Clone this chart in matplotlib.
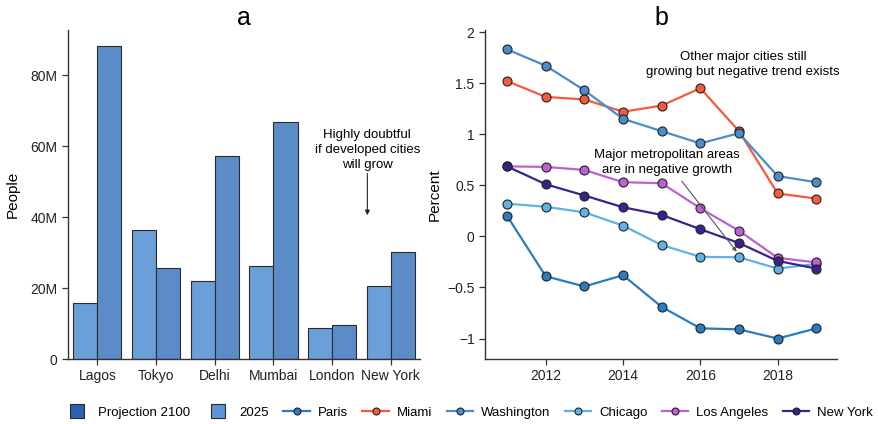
import matplotlib
matplotlib.use("Agg")
import matplotlib.pyplot as plt
from matplotlib.lines import Line2D
from matplotlib.ticker import FuncFormatter
import numpy as np

plt.rcParams['font.family'] = ['Liberation Sans', 'DejaVu Sans']

# panel a data (millions of people)
cities = ["Lagos", "Tokyo", "Delhi", "Mumbai", "London", "New York"]
pop_2025 = [15.9, 36.3, 22.0, 26.3, 8.6, 20.6]
pop_2100 = [88.2, 25.6, 57.3, 66.8, 9.6, 30.1]

# panel b data (percent growth)
years = [2011, 2012, 2013, 2014, 2015, 2016, 2017, 2018, 2019]
paris = [0.20, -0.39, -0.49, -0.38, -0.69, -0.90, -0.91, -1.00, -0.90]
miami = [1.52, 1.365, 1.34, 1.22, 1.28, 1.45, 1.03, 0.42, 0.37]
washington = [1.83, 1.67, 1.43, 1.15, 1.03, 0.91, 1.01, 0.59, 0.53]
chicago = [0.32, 0.29, 0.235, 0.105, -0.085, -0.20, -0.205, -0.315, -0.27]
los_angeles = [0.685, 0.68, 0.65, 0.53, 0.52, 0.275, 0.055, -0.21, -0.255]
new_york = [0.685, 0.51, 0.40, 0.285, 0.21, 0.07, -0.065, -0.24, -0.315]

series = [("Paris", paris, "#2a7bbf"),
          ("Miami", miami, "#f45b3c"),
          ("Washington", washington, "#4a8ccc"),
          ("Chicago", chicago, "#5db3e4"),
          ("Los Angeles", los_angeles, "#bf5fd6"),
          ("New York", new_york, "#3b2190")]

fig = plt.figure(figsize=(8.79, 4.24), dpi=100)
ax1 = fig.add_axes([0.0774, 0.1533, 0.4006, 0.776])
ax2 = fig.add_axes([0.5518, 0.1533, 0.4002, 0.776])

edge = "#2b2b2b"
for ax in (ax1, ax2):
    for s in ("top", "right"):
        ax.spines[s].set_visible(False)
    for s in ("left", "bottom"):
        ax.spines[s].set_color("#333333")
        ax.spines[s].set_linewidth(1.0)
    ax.tick_params(direction="out", length=4, width=0.9, colors="#333333",
                   labelsize=10, labelcolor="#222222")

# ---- panel a
x = np.arange(len(cities))
w = 0.41
ax1.bar(x - w / 2, np.array(pop_2025) * 1e6, width=w, color="#6a9fd8",
        edgecolor=edge, linewidth=0.8)
ax1.bar(x + w / 2, np.array(pop_2100) * 1e6, width=w, color="#5b8cc8",
        edgecolor=edge, linewidth=0.8)
ax1.set_xticks(x)
ax1.set_xticklabels(cities)
ax1.set_xlim(-0.5, 5.5)
ax1.set_ylim(0, 92.7e6)
ax1.set_yticks([0, 20e6, 40e6, 60e6, 80e6])
ax1.yaxis.set_major_formatter(FuncFormatter(lambda v, p: "0" if v == 0 else "%dM" % round(v / 1e6)))
ax1.set_ylabel("People", fontsize=11, labelpad=8)
ax1.set_title("a", fontsize=18, pad=2)
ax1.annotate("Highly doubtful\nif developed cities\nwill grow", xy=(4.6, 40.5e6),
             xytext=(4.6, 53e6), ha="center", va="bottom", fontsize=9.5,
             linespacing=1.3,
             arrowprops=dict(arrowstyle="-|>", color="#222222", lw=0.8,
                             mutation_scale=7, shrinkA=0, shrinkB=0))

# ---- panel b
for name, vals, col in series:
    ax2.plot(years, vals, color=col, lw=1.6, marker="o", markersize=6.5,
             markerfacecolor=col, markeredgecolor="#222222", markeredgewidth=0.8)
ax2.set_xlim(2010.43, 2019.53)
ax2.set_ylim(-1.2, 2.02)
ax2.set_xticks([2012, 2014, 2016, 2018])
ax2.set_yticks([-1, -0.5, 0, 0.5, 1, 1.5, 2])
ax2.yaxis.set_major_formatter(FuncFormatter(lambda v, p: ("%g" % v).replace("-", "\u2212")))
ax2.set_ylabel("Percent", fontsize=11, labelpad=4)
ax2.set_title("b", fontsize=18, pad=2)
ax2.text(2017.1, 1.68, "Other major cities still\ngrowing but negative trend exists",
         ha="center", va="center", fontsize=9.5, linespacing=1.3)
ax2.text(2015.13, 0.72, "Major metropolitan areas\nare in negative growth",
         ha="center", va="center", fontsize=9.5, linespacing=1.3)
ax2.annotate("", xy=(2016.94, -0.15), xytext=(2015.52, 0.54),
             arrowprops=dict(arrowstyle="-|>", color="#555555", lw=0.8,
                             mutation_scale=6, shrinkA=0, shrinkB=0))

# ---- shared legend
handles = [Line2D([0], [0], ls="none", marker="s", markersize=10, markerfacecolor="#2a62b0",
                  markeredgecolor=edge, markeredgewidth=0.8, label="Projection 2100"),
           Line2D([0], [0], ls="none", marker="s", markersize=10, markerfacecolor="#5e94d4",
                  markeredgecolor=edge, markeredgewidth=0.8, label="2025")]
for name, vals, col in series:
    handles.append(Line2D([0], [0], color=col, lw=1.6, marker="o", markersize=5,
                          markerfacecolor=col, markeredgecolor="#222222",
                          markeredgewidth=0.8, label=name))
fig.legend(handles=handles, loc="center", bbox_to_anchor=(0.533, 0.026), ncol=8,
           frameon=False, fontsize=9.5, handlelength=2.0, handletextpad=0.6,
           columnspacing=1.1)

fig.savefig("out.png", dpi=100)
